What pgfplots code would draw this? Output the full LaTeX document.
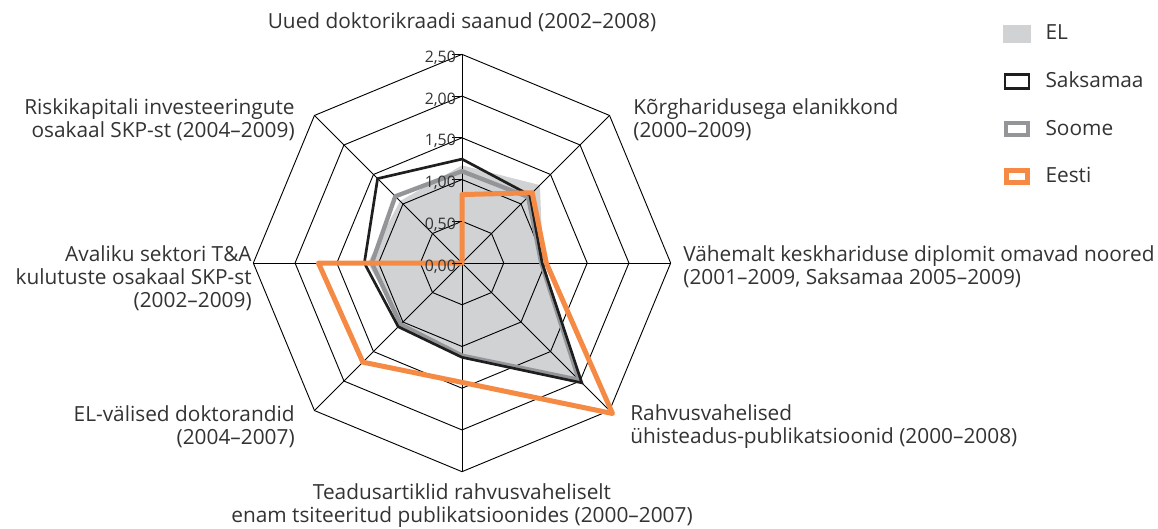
\documentclass[border=0pt]{standalone}
\usepackage{fontspec}
\setmainfont{Open Sans}
\usepackage{pgfplots}
\pgfplotsset{compat=1.18}
\usepgfplotslibrary{polar}
\definecolor{elgray}{HTML}{D1D2D4}
\definecolor{deblack}{HTML}{1E1E1E}
\definecolor{figray}{HTML}{939598}
\definecolor{eeorange}{HTML}{F58A45}
\definecolor{txt}{HTML}{333333}
\begin{document}
\begin{tikzpicture}
\useasboundingbox (-277.2pt,-159pt) rectangle (417.6pt,157.8pt);
\begin{polaraxis}[
  at={(0pt,0pt)}, anchor=center,
  scale only axis, width=250.4pt, height=250.4pt,
  xmin=0, xmax=360, ymin=0, ymax=2.5,
  hide axis, clip=false,
  legend style={at={(1.796,1.075)}, anchor=north west, draw=none, fill=none,
    font=\fontsize{12.5}{13.8}\selectfont, text=txt, row sep=15.8pt, inner sep=0pt,
    nodes={inner sep=1pt},
    /tikz/every odd column/.style={column sep=8pt}},
  legend cell align=left,
  grid line/.style={black, line width=0.55pt, forget plot},
]
% EL area
\addplot[fill=elgray, draw=none, forget plot] coordinates {
  (90,1.17) (45,1.32) (0,0.97) (315,2.00) (270,1.10) (225,1.02) (180,1.13) (135,1.05) (90,1.17)} -- cycle;
% octagonal grid
\addplot[grid line] coordinates {(90,0.5) (45,0.5) (0,0.5) (315,0.5) (270,0.5) (225,0.5) (180,0.5) (135,0.5) (90,0.5)};
\addplot[grid line] coordinates {(90,1.0) (45,1.0) (0,1.0) (315,1.0) (270,1.0) (225,1.0) (180,1.0) (135,1.0) (90,1.0)};
\addplot[grid line] coordinates {(90,1.5) (45,1.5) (0,1.5) (315,1.5) (270,1.5) (225,1.5) (180,1.5) (135,1.5) (90,1.5)};
\addplot[grid line] coordinates {(90,2.0) (45,2.0) (0,2.0) (315,2.0) (270,2.0) (225,2.0) (180,2.0) (135,2.0) (90,2.0)};
\addplot[grid line] coordinates {(90,2.5) (45,2.5) (0,2.5) (315,2.5) (270,2.5) (225,2.5) (180,2.5) (135,2.5) (90,2.5)};
\addplot[grid line] coordinates {(90,2.5) (270,2.5)};
\addplot[grid line] coordinates {(0,2.5) (180,2.5)};
\addplot[grid line] coordinates {(45,2.5) (225,2.5)};
\addplot[grid line] coordinates {(135,2.5) (315,2.5)};
% Soome
\addplot[figray, line width=2.6pt, forget plot] coordinates {
  (90,1.10) (45,1.12) (0,0.95) (315,1.98) (270,1.11) (225,1.04) (180,1.08) (135,1.13) (90,1.10)} -- cycle;
% Saksamaa
\addplot[deblack, line width=1.6pt, forget plot] coordinates {
  (90,1.245) (45,1.15) (0,0.96) (315,2.03) (270,1.13) (225,1.08) (180,1.17) (135,1.43) (90,1.245)} -- cycle;
% Eesti
\addplot[eeorange, line width=3pt, line join=round, forget plot] coordinates {
  (90,0.82) (45,1.19) (0,1.01) (315,2.55) (270,1.43) (225,1.68) (180,1.72) (135,0) (90,0.82)} -- cycle;

\addlegendimage{legend image code/.code={\fill[elgray] (0pt,-5pt) rectangle (16pt,5pt);}}
\addlegendentry{EL}
\addlegendimage{legend image code/.code={\draw[deblack,line width=1.6pt] (0.8pt,-4.2pt) rectangle (15.2pt,4.2pt);}}
\addlegendentry{Saksamaa}
\addlegendimage{legend image code/.code={\draw[figray,line width=2.6pt] (1.3pt,-3.7pt) rectangle (14.7pt,3.7pt);}}
\addlegendentry{Soome}
\addlegendimage{legend image code/.code={\draw[eeorange,line width=3pt] (1.5pt,-3.5pt) rectangle (14.5pt,3.5pt);}}
\addlegendentry{Eesti}

% radial ticks and their labels
\draw[black, line width=0.55pt] (axis cs:90,0) -- ++(-6pt,0pt);
\draw[black, line width=0.55pt] (axis cs:90,0.5) -- ++(-6pt,0pt);
\draw[black, line width=0.55pt] (axis cs:90,1) -- ++(-6pt,0pt);
\draw[black, line width=0.55pt] (axis cs:90,1.5) -- ++(-6pt,0pt);
\draw[black, line width=0.55pt] (axis cs:90,2) -- ++(-6pt,0pt);
\draw[black, line width=0.55pt] (axis cs:90,2.5) -- ++(-6pt,0pt);
\begin{scope}[every node/.style={anchor=east, text=txt, inner sep=0pt, font=\fontsize{9.5}{10}\selectfont}]
\node at ([xshift=-3.5pt,yshift=-2pt]axis cs:90,0) {0,00};
\node at ([xshift=-3.5pt,yshift=-2pt]axis cs:90,0.5) {0,50};
\node at ([xshift=-3.5pt,yshift=-2pt]axis cs:90,1) {1,00};
\node at ([xshift=-3.5pt,yshift=-2pt]axis cs:90,1.5) {1,50};
\node at ([xshift=-3.5pt,yshift=-2pt]axis cs:90,2) {2,00};
\node at ([xshift=-3.5pt,yshift=-2pt]axis cs:90,2.5) {2,50};
\end{scope}
\end{polaraxis}
% category labels
\begin{scope}[every node/.style={text=txt, font=\fontsize{12.5}{13.8}\selectfont, inner sep=0pt}]
\node[anchor=center] at (0pt,144.6pt) {Uued doktorikraadi saanud (2002–2008)};
\node[anchor=west, align=left] at (102.6pt,86.1pt) {Kõrgharidusega elanikkond\\(2000–2009)};
\node[anchor=west, align=left] at (132.6pt,-2.1pt) {Vähemalt keskhariduse diplomit omavad noored\\(2001–2009, Saksamaa 2005–2009)};
\node[anchor=west, align=left] at (100.8pt,-98.1pt) {Rahvusvahelised\\ühisteadus-publikatsioonid (2000–2008)};
\node[anchor=center, align=center] at (0pt,-145.5pt) {Teadusartiklid rahvusvaheliselt\\enam tsiteeritud publikatsioonides (2000–2007)};
\node[anchor=east, align=right] at (-100.2pt,-98.1pt) {EL-välised doktorandid\\(2004–2007)};
\node[anchor=east, align=right] at (-126pt,-9pt) {Avaliku sektori T\&A\\kulutuste osakaal SKP-st\\(2002–2009)};
\node[anchor=east, align=right] at (-100.2pt,86.1pt) {Riskikapitali investeeringute\\osakaal SKP-st (2004–2009)};
\end{scope}
\end{tikzpicture}
\end{document}
